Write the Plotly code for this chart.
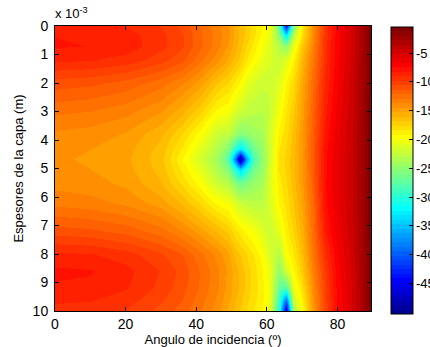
import numpy as np
import plotly.graph_objects as go

# ---- data ----
angulos = [0, 10, 20, 30, 36, 41, 46, 49, 51, 52.5, 54, 56, 58.5, 61, 63.5,
           65.5, 67.5, 70, 73, 76.5, 80, 84, 87, 89.5]
espesores_mm = [0, 0.3, 0.7, 1.2, 2, 3, 3.8, 4.3, 4.65, 5.0, 5.5, 6.2, 7.2,
                8, 8.6, 9.2, 9.6, 10]

# one list per angle (column), values in dB along espesores_mm
reflex_db_por_angulo = [
    [-8.5, -8.2, -8.1, -8.8, -10.9, -12.7, -13.8, -14.2, -14.3, -14.2, -13.9, -13.1, -10.9, -8.8, -8.0, -8.3, -8.8, -9.3],
    [-8.6, -8.3, -8.2, -8.9, -11.1, -12.9, -14.0, -14.4, -14.5, -14.4, -14.1, -13.3, -11.1, -8.9, -8.1, -8.4, -8.9, -9.4],
    [-9.0, -8.6, -8.5, -9.3, -11.6, -13.4, -14.5, -14.9, -15.0, -14.9, -14.6, -13.8, -11.6, -9.4, -8.7, -8.9, -9.4, -9.8],
    [-9.8, -9.5, -9.5, -10.2, -12.5, -14.4, -15.8, -16.3, -16.5, -16.3, -15.9, -14.8, -12.5, -10.4, -9.8, -10.0, -10.4, -10.8],
    [-10.7, -10.4, -10.4, -11.1, -13.5, -15.7, -17.5, -18.4, -19.0, -18.5, -17.7, -16.1, -13.6, -11.3, -10.8, -11.0, -11.3, -11.7],
    [-12.1, -11.9, -11.9, -12.6, -14.8, -17.3, -19.5, -20.8, -21.5, -20.6, -19.5, -17.6, -14.8, -12.6, -12.1, -12.2, -12.5, -12.8],
    [-13.4, -13.2, -13.3, -14.1, -16.7, -19.4, -22.0, -23.2, -24.0, -23.3, -22.0, -19.2, -16.1, -13.9, -13.4, -13.5, -13.8, -14.1],
    [-14.3, -14.2, -14.5, -15.3, -17.6, -19.8, -22.5, -25.5, -27.5, -25.5, -23.0, -19.8, -17.0, -15.0, -14.6, -14.7, -15.0, -15.3],
    [-15.5, -15.4, -15.7, -16.3, -18.5, -21.3, -24.0, -30.0, -38.0, -30.0, -25.0, -21.0, -18.0, -16.2, -15.6, -15.6, -15.9, -16.2],
    [-16.2, -16.1, -16.4, -17.0, -19.2, -22.0, -25.5, -33.0, -50.0, -34.0, -26.5, -22.0, -18.6, -16.8, -16.2, -16.2, -16.5, -16.8],
    [-17.0, -17.0, -17.5, -18.2, -20.5, -22.5, -25.0, -30.0, -37.0, -30.5, -25.5, -22.5, -19.3, -17.5, -17.0, -17.0, -17.3, -17.5],
    [-18.0, -18.0, -18.5, -19.3, -21.3, -22.8, -24.2, -26.5, -28.5, -26.5, -24.5, -22.8, -19.8, -18.3, -17.8, -17.8, -18.0, -18.3],
    [-18.9, -19.3, -19.8, -20.5, -22.0, -23.0, -23.8, -24.5, -25.0, -24.5, -23.8, -22.8, -21.0, -19.5, -19.0, -18.8, -18.8, -19.0],
    [-20.0, -20.5, -21.0, -21.3, -22.0, -22.0, -21.5, -21.5, -21.5, -21.3, -21.0, -21.2, -22.0, -21.5, -20.5, -20.2, -20.5, -21.0],
    [-27.0, -25.0, -23.0, -22.0, -21.0, -19.8, -18.8, -18.3, -18.0, -18.2, -18.6, -19.0, -20.5, -23.0, -25.0, -27.0, -29.0, -30.0],
    [-44.0, -33.0, -25.0, -21.0, -19.0, -18.3, -17.8, -17.5, -17.3, -17.4, -17.6, -18.0, -18.7, -19.5, -21.5, -28.0, -39.0, -47.0],
    [-26.0, -23.0, -20.5, -19.0, -17.8, -17.0, -16.5, -16.3, -16.2, -16.2, -16.4, -16.8, -17.5, -18.5, -19.2, -20.5, -22.0, -24.0],
    [-18.5, -18.0, -16.8, -16.0, -15.2, -14.8, -14.5, -14.5, -14.5, -14.5, -14.6, -15.0, -15.6, -16.3, -17.0, -18.0, -18.8, -19.5],
    [-14.0, -13.8, -13.3, -12.8, -12.2, -11.8, -11.5, -11.3, -11.3, -11.4, -11.6, -12.0, -12.3, -12.8, -13.3, -13.8, -14.2, -14.5],
    [-9.5, -9.4, -9.3, -9.2, -8.8, -8.4, -8.0, -7.7, -7.6, -7.6, -7.5, -7.6, -8.2, -9.2, -9.8, -10.0, -10.2, -10.3],
    [-7.0, -7.0, -7.0, -6.9, -6.7, -6.4, -6.1, -6.0, -5.9, -5.9, -5.9, -6.0, -6.3, -6.8, -7.0, -7.2, -7.3, -7.4],
    [-4.8, -4.8, -4.8, -4.7, -4.6, -4.5, -4.4, -4.4, -4.4, -4.4, -4.4, -4.4, -4.5, -4.7, -4.9, -5.0, -5.0, -5.0],
    [-2.8, -2.8, -2.8, -2.7, -2.7, -2.6, -2.5, -2.5, -2.5, -2.5, -2.5, -2.5, -2.6, -2.7, -2.8, -2.9, -2.9, -2.9],
    [-0.5, -0.5, -0.5, -0.5, -0.5, -0.4, -0.4, -0.4, -0.4, -0.4, -0.4, -0.4, -0.4, -0.5, -0.5, -0.6, -0.6, -0.6],
]

x_ticks = [0, 20, 40, 60, 80]
y_ticks = [0, 1, 2, 3, 4, 5, 6, 7, 8, 9, 10]
cb_ticks = [-5, -10, -15, -20, -25, -30, -35, -40, -45]
z_min, z_max = -50.2, -0.4


# ---- MATLAB jet(64) as a stepped colorscale ----
def matlab_jet(n=64):
    m = int(np.ceil(n / 4))
    u = np.concatenate([np.arange(1, m + 1) / m, np.ones(m - 1), np.arange(m, 0, -1) / m])
    g = int(np.ceil(m / 2)) - (1 if n % 4 == 1 else 0) + np.arange(1, len(u) + 1)
    r = g + m
    b = g - m
    g = g[g <= n]
    r = r[r <= n]
    b = b[b >= 1]
    J = np.zeros((n, 3))
    J[r - 1, 0] = u[:len(r)]
    J[g - 1, 1] = u[:len(g)]
    J[b - 1, 2] = u[len(u) - len(b):]
    return J


J = matlab_jet(64)
n = len(J)
colorscale = []
for i, c in enumerate(J):
    col = "rgb(%d,%d,%d)" % tuple(int(round(v * 255)) for v in c)
    colorscale.append([i / n, col])
    colorscale.append([(i + 1) / n, col])

z = np.array(reflex_db_por_angulo).T

FONT = "Liberation Sans, Arial, sans-serif"

# page body margin is removed below, so figure pixels == window pixels
W, H = 430, 347
PLOT_L, PLOT_R, PLOT_T, PLOT_B = 55, 371, 26, 311
PW, PH = PLOT_R - PLOT_L, PLOT_B - PLOT_T

# colour bar geometry (pixels)
CB_LEFT = 390.7
CB_LEN = 287
CB_CENTER = 170
CB_TOP = CB_CENTER - CB_LEN / 2


def cb_value_to_paper_y(v):
    ypix = CB_TOP + (z_max - v) / (z_max - z_min) * CB_LEN
    return (PLOT_B - ypix) / PH


fig = go.Figure(
    go.Heatmap(
        x=angulos,
        y=espesores_mm,
        z=z,
        zsmooth="best",
        zmin=z_min,
        zmax=z_max,
        colorscale=colorscale,
        colorbar=dict(
            x=(CB_LEFT - PLOT_L) / PW,
            xanchor="left",
            y=(PLOT_B - CB_CENTER) / PH,
            yanchor="middle",
            lenmode="pixels",
            len=CB_LEN,
            thicknessmode="pixels",
            thickness=22,
            xpad=0,
            ypad=0,
            outlinewidth=1,
            outlinecolor="black",
            tickvals=cb_ticks,
            ticks="inside",
            ticklen=4,
            tickcolor="black",
            showticklabels=False,
        ),
    )
)

axis_common = dict(
    showline=True,
    linecolor="black",
    linewidth=1,
    mirror="ticks",
    ticks="inside",
    ticklen=4,
    tickcolor="black",
    showgrid=False,
    zeroline=False,
    automargin=False,
    tickfont=dict(family=FONT, size=14, color="black"),
)

annotations = [
    dict(
        text="x 10<sup>-3</sup>",
        xref="paper",
        yref="paper",
        x=-0.006,
        y=1.012,
        xanchor="left",
        yanchor="bottom",
        showarrow=False,
        font=dict(family=FONT, size=13, color="black"),
    )
]
# colour bar tick labels (the reference shows them cut at the right edge)
for v in cb_ticks:
    annotations.append(
        dict(
            text=str(v),
            xref="paper",
            yref="paper",
            x=(415 - PLOT_L) / PW,
            y=cb_value_to_paper_y(v),
            xanchor="left",
            yanchor="middle",
            showarrow=False,
            borderpad=0,
            font=dict(family=FONT, size=13, color="black"),
        )
    )

fig.update_layout(
    width=W,
    height=H,
    margin=dict(l=PLOT_L, r=W - PLOT_R, t=PLOT_T, b=H - PLOT_B, autoexpand=False),
    paper_bgcolor="white",
    plot_bgcolor="white",
    font=dict(family=FONT, color="black"),
    xaxis=dict(
        range=[0, 89.5],
        tickvals=x_ticks,
        title=dict(text="Angulo de incidencia (º)", font=dict(family=FONT, size=13), standoff=2),
        **axis_common,
    ),
    yaxis=dict(
        range=[10, 0],
        tickvals=y_ticks,
        ticklabelstandoff=3,
        title=dict(text="Espesores de la capa (m)", font=dict(family=FONT, size=13), standoff=6),
        **axis_common,
    ),
    annotations=annotations,
)

fig.write_html(
    "out.html",
    config={"displayModeBar": False},
    post_script="document.body.style.margin='0';document.body.style.overflow='hidden';",
)
